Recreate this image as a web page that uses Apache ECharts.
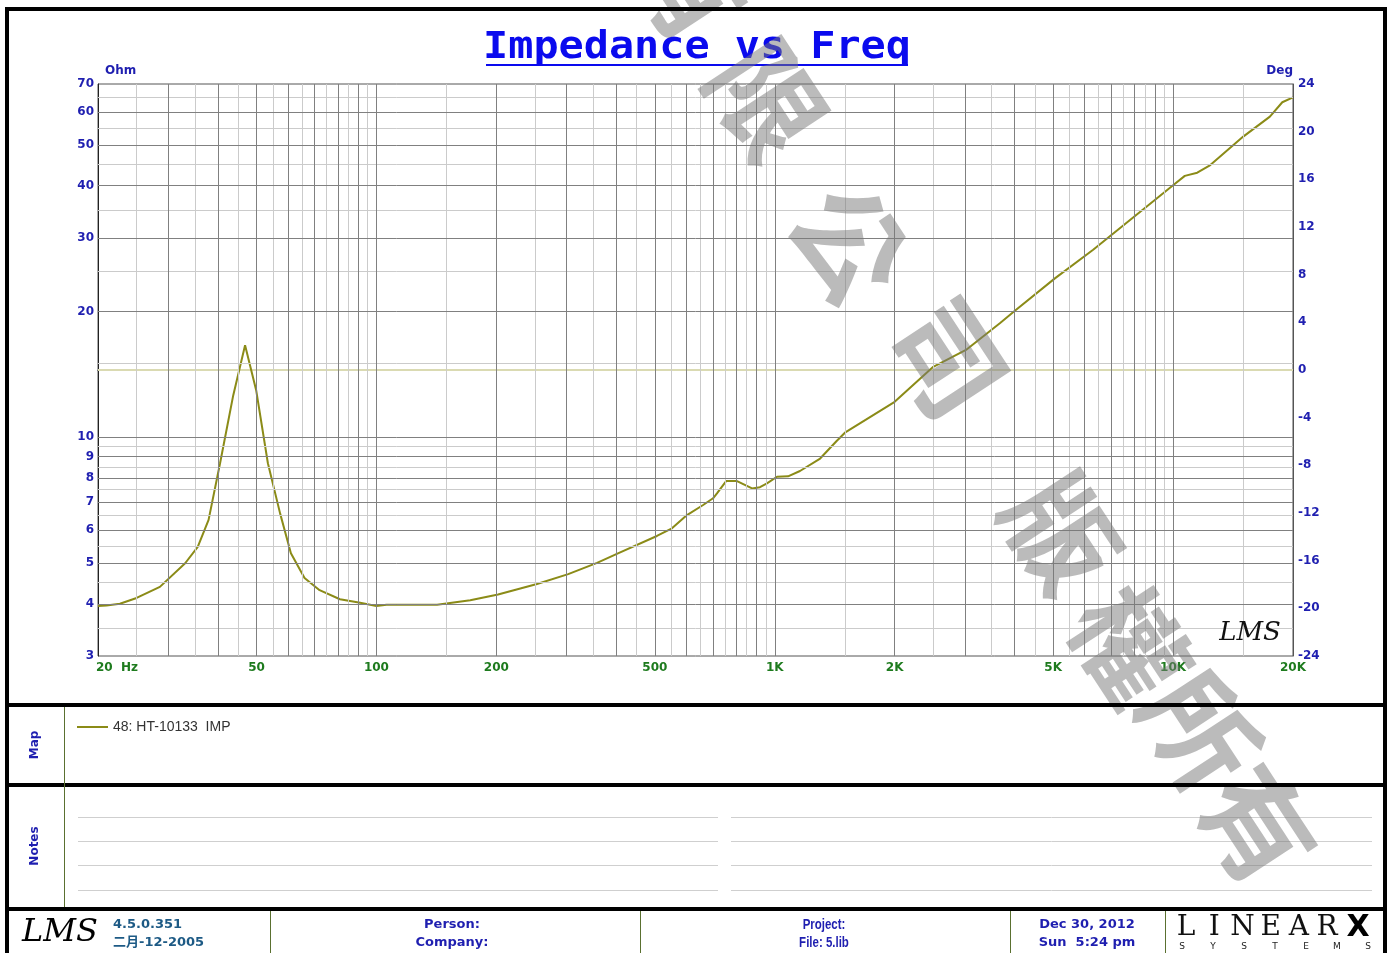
<!DOCTYPE html>
<html>
<head>
<meta charset="utf-8">
<script src="https://cdn.jsdelivr.net/npm/echarts@6/dist/echarts.min.js"></script>
<style>
html,body{margin:0;padding:0;background:#fff;}
#Impedance{width:1393px;height:953px;}
</style>
</head>
<body>
<div id="Impedance"></div>
<script>
// measured curve: 48: HT-10133 IMP
var freq = [20, 21, 22.7, 25, 28.6, 33.1, 35.6, 37.9, 40.5, 43.7, 46.8, 49.9, 53.4, 57.3, 61, 66, 72, 81, 91, 100,
  106, 142, 172, 202, 253, 303, 358, 404, 506, 552, 602, 661, 700, 716, 755, 804, 877, 918, 956, 1013,
  1080, 1157, 1300, 1430, 1500, 2000, 2500, 3020, 3680, 4000, 5050, 6300, 10000, 10700, 11500, 12400, 15000, 17500, 18800, 20000];
var ohm = [3.95, 3.96, 4.0, 4.13, 4.39, 5.0, 5.47, 6.35, 8.67, 12.6, 16.6, 12.97, 8.67, 6.58, 5.28, 4.61, 4.31, 4.10, 4.02, 3.95,
  3.98, 3.98, 4.08, 4.21, 4.46, 4.71, 5.01, 5.28, 5.81, 6.06, 6.52, 6.89, 7.15, 7.35, 7.86, 7.86, 7.55, 7.60, 7.76, 8.05,
  8.07, 8.31, 8.9, 9.8, 10.26, 12.16, 14.75, 16.18, 18.77, 20.05, 24.0, 28.1, 40.1, 42.2, 42.95, 44.8, 52.4, 58.5, 63.3, 65.0];

var freqTicks = [20, 50, 100, 200, 500, 1000, 2000, 5000, 10000, 20000];
var freqTickLabels = ['20  Hz', '50', '100', '200', '500', '1K', '2K', '5K', '10K', '20K'];
var ohmTicks = [70, 60, 50, 40, 30, 20, 10, 9, 8, 7, 6, 5, 4, 3];
var degZero = [0];

var freqGridMajor = [30, 40, 50, 60, 70, 80, 90, 100, 200, 300, 400, 500, 600, 700, 800, 900, 1000,
  2000, 3000, 4000, 5000, 6000, 7000, 8000, 9000, 10000];
var freqGridMinor = [25, 35, 45, 55, 65, 75, 85, 95, 150, 250, 350, 450, 550, 650, 750, 850, 950,
  1500, 2500, 3500, 4500, 5500, 6500, 7500, 8500, 9500, 15000];
var ohmGridMajor = [60, 50, 40, 30, 20, 10, 9, 8, 7, 6, 5, 4];
var ohmGridMinor = [65, 55, 45, 35, 25, 15, 9.5, 8.5, 7.5, 6.5, 5.5, 4.5, 3.5];

var mapLabel = '48: HT-10133  IMP';
var curveColor = '#8b8b17';

var myChart = echarts.init(document.getElementById('Impedance'));

var gridMarks = [];
freqGridMinor.forEach(function (v) { gridMarks.push({ xAxis: v, lineStyle: { color: '#cbcbcb' } }); });
ohmGridMinor.forEach(function (v) { gridMarks.push({ yAxis: v, lineStyle: { color: '#cbcbcb' } }); });
freqGridMajor.forEach(function (v) { gridMarks.push({ xAxis: v, lineStyle: { color: '#808080' } }); });
ohmGridMajor.forEach(function (v) { gridMarks.push({ yAxis: v, lineStyle: { color: '#808080' } }); });

var curve = freq.map(function (f, i) { return [f, ohm[i]]; });

myChart.setOption({
  animation: false,
  backgroundColor: '#fff',
  grid: { left: 98, top: 84, width: 1195, height: 572, show: true, borderColor: '#555', borderWidth: 1, backgroundColor: '#fff' },
  xAxis: {
    type: 'log', logBase: 10, min: 20, max: 20000,
    axisLine: { show: true, lineStyle: { color: '#222', width: 1 } },
    axisTick: { show: false }, axisLabel: { show: false }, splitLine: { show: false }
  },
  yAxis: [
    {
      type: 'log', logBase: 10, min: 3, max: 70,
      axisLine: { show: true, lineStyle: { color: '#222', width: 1 } },
      axisTick: { show: false }, axisLabel: { show: false }, splitLine: { show: false }
    },
    {
      type: 'value', min: -24, max: 24, interval: 4, position: 'right',
      axisLine: { show: true, lineStyle: { color: '#555', width: 1 } },
      axisTick: { show: false }, splitLine: { show: false },
      axisLabel: { color: '#1f1fb0', fontWeight: 'bold', fontSize: 12, fontFamily: 'DejaVu Sans', margin: 5 }
    }
  ],
  series: [
    {
      name: 'grid', type: 'line', data: [], z: 1, silent: true,
      markLine: {
        silent: true, symbol: ['none', 'none'], animation: false,
        label: { show: false }, emphasis: { disabled: true },
        lineStyle: { type: 'solid', width: 1 },
        data: gridMarks
      }
    },
    {
      name: 'zero', type: 'line', yAxisIndex: 1, z: 2, silent: true, showSymbol: false,
      lineStyle: { color: '#dadab2', width: 2 },
      data: [[20, degZero[0]], [20000, degZero[0]]]
    },
    {
      name: mapLabel, type: 'line', z: 3, silent: true, showSymbol: false,
      lineStyle: { color: curveColor, width: 2 },
      data: curve
    }
  ]
});

var px = function (v) { return myChart.convertToPixel({ xAxisIndex: 0 }, v); };
var py = function (v) { return myChart.convertToPixel({ yAxisIndex: 0 }, v); };

var g = [];
function txt(x, y, s, o) {
  o = o || {};
  g.push({
    type: 'text', x: x, y: y, z: o.z || 5, rotation: o.rotation || 0, scaleX: o.scaleX || 1,
    style: {
      text: s, fill: o.fill || '#1f1fb0', fontSize: o.size || 12, fontWeight: o.weight || 'bold',
      fontFamily: o.family || 'DejaVu Sans', fontStyle: o.style || 'normal',
      align: o.align || 'left', verticalAlign: 'middle'
    }
  });
}
function line(x1, y1, x2, y2, color, w, z) {
  g.push({ type: 'line', z: z || 20, shape: { x1: x1, y1: y1, x2: x2, y2: y2 }, style: { stroke: color, lineWidth: w } });
}

// tick labels through the axes
freqTicks.forEach(function (v, i) {
  if (i === 0) txt(px(v) - 2, 668, freqTickLabels[i], { fill: '#1e7b1e' });
  else txt(px(v), 668, freqTickLabels[i], { fill: '#1e7b1e', align: 'center' });
});
ohmTicks.forEach(function (v) { txt(94, py(v), String(v), { align: 'right' }); });
txt(105, 71, 'Ohm', {});
txt(1293, 71, 'Deg', { align: 'right' });

// title
txt(697, 48, 'Impedance vs Freq', { fill: '#0a0aee', size: 37, weight: 'bold', family: 'DejaVu Sans Mono', align: 'center', scaleX: 1.13 });
line(486, 65, 908, 65, '#0a0aee', 2, 5);

// LMS mark in plot
txt(1250, 633, 'LMS', { fill: '#111', size: 26, weight: 'normal', style: 'italic', family: 'DejaVu Serif', align: 'center' });

// frame panels
line(7, 9, 1385, 9, '#000', 4);
line(7, 7, 7, 953, '#000', 4);
line(1385, 7, 1385, 953, '#000', 4);
line(7, 705, 1385, 705, '#000', 4);
line(7, 785, 1385, 785, '#000', 4);
line(7, 909, 1385, 909, '#000', 4);
line(64.5, 707, 64.5, 907, '#5a7030', 1);

// map panel
txt(35, 745, 'Map', { rotation: Math.PI / 2, align: 'center' });
line(77, 727, 108, 727, curveColor, 2, 5);
txt(113, 727, mapLabel, { fill: '#333', size: 14, weight: 'normal', family: 'Liberation Sans' });

// notes panel
txt(35, 846, 'Notes', { rotation: Math.PI / 2, align: 'center' });
[817, 841, 865, 890].forEach(function (y) {
  line(78, y + 0.5, 718, y + 0.5, '#cfcfcf', 1, 5);
  line(731, y + 0.5, 1372, y + 0.5, '#cfcfcf', 1, 5);
});

// footer
[270, 640, 1010, 1165].forEach(function (x) { line(x + 0.5, 911, x + 0.5, 953, '#5a7030', 1); });
txt(60, 933, 'LMS', { fill: '#000', size: 32, weight: 'normal', style: 'italic', family: 'DejaVu Serif', align: 'center' });
txt(113, 925, '4.5.0.351', { fill: '#1d5a85', size: 13 });
txt(113, 943, '二月-12-2005', { fill: '#1d5a85', size: 13, family: 'DejaVu Sans, Noto Sans CJK SC' });
txt(452, 925, 'Person:', { size: 13, align: 'center' });
txt(452, 943, 'Company:', { size: 13, align: 'center' });
txt(824, 925, 'Project:', { size: 14, align: 'center', family: 'Liberation Sans', scaleX: 0.82 });
txt(824, 943, 'File: 5.lib', { size: 14, align: 'center', family: 'Liberation Sans', scaleX: 0.82 });
txt(1087, 925, 'Dec 30, 2012', { size: 13, align: 'center' });
txt(1087, 943, 'Sun  5:24 pm', { size: 13, align: 'center' });
['L', 'I', 'N', 'E', 'A', 'R'].forEach(function (c, i) {
  txt(1186 + i * 28.2, 928, c, { fill: '#111', size: 28, weight: 'normal', family: 'DejaVu Serif', align: 'center' });
});
txt(1358, 928, 'X', { fill: '#000', size: 30, weight: '900', family: 'DejaVu Sans', align: 'center' });
['S', 'Y', 'S', 'T', 'E', 'M', 'S'].forEach(function (c, i) {
  txt(1182 + i * 31, 947, c, { fill: '#222', size: 9, weight: 'normal', family: 'DejaVu Sans', align: 'center' });
});

// watermark
var wmChars = ['有', '限', '公', '司', '版', '權', '所', '有'];
var wmPos = [[688, -18], [767, 100], [850, 243], [948, 358], [1062, 533], [1130, 645], [1200, 730], [1258, 825]];
wmChars.forEach(function (c, i) {
  txt(wmPos[i][0], wmPos[i][1], c, {
    fill: 'rgba(120,120,120,0.5)', size: 112, weight: 'bold', family: 'Noto Sans CJK TC',
    align: 'center', rotation: -0.99, z: 10
  });
});

myChart.setOption({ graphic: { elements: g } });
</script>
</body>
</html>
